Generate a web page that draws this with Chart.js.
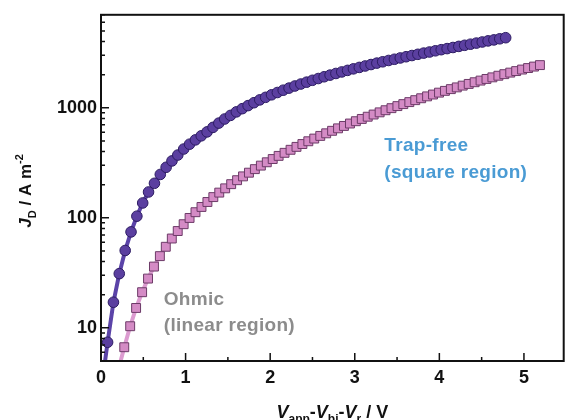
<!DOCTYPE html>
<html>
<head>
<meta charset="utf-8">
<script src="https://cdn.jsdelivr.net/npm/chart.js@4.4.1/dist/chart.umd.min.js"></script>
<style>
  body { margin: 0; background: #fff; }
  #wrap { width: 571px; height: 420px; }
</style>
</head>
<body>
<div id="wrap"><canvas id="grafica" width="571" height="420"></canvas></div>
<script>
// ─── DATOS ───────────────────────────────────────────────
const circX = [0.078, 0.147, 0.216, 0.286, 0.355, 0.424, 0.493, 0.562, 0.632, 0.701,
  0.770, 0.839, 0.908, 0.978, 1.047, 1.116, 1.185, 1.254, 1.324, 1.393,
  1.462, 1.531, 1.600, 1.670, 1.739, 1.808, 1.877, 1.946, 2.016, 2.085,
  2.154, 2.223, 2.292, 2.362, 2.431, 2.500, 2.569, 2.638, 2.708, 2.777,
  2.846, 2.915, 2.984, 3.054, 3.123, 3.192, 3.261, 3.330, 3.400, 3.469,
  3.538, 3.607, 3.676, 3.746, 3.815, 3.884, 3.953, 4.022, 4.092, 4.161,
  4.230, 4.299, 4.368, 4.438, 4.507, 4.576, 4.645, 4.714, 4.784]
const circY = [7.4, 17.1, 31.1, 50.5, 74.5, 103.5, 136.5, 171.8, 206, 248,
  288, 329, 372, 422, 467, 511, 556, 604, 664, 726,
  791, 853, 918, 982, 1047, 1112, 1180, 1245, 1312, 1377,
  1445, 1510, 1578, 1644, 1710, 1778, 1845, 1914, 1982, 2051,
  2118, 2188, 2259, 2328, 2399, 2472, 2547, 2618, 2692, 2761,
  2838, 2911, 2985, 3062, 3141, 3214, 3296, 3373, 3451, 3532,
  3614, 3698, 3784, 3873, 3963, 4055, 4140, 4236, 4335]

const sqX = [0.275, 0.345, 0.415, 0.486, 0.556, 0.626, 0.696, 0.766, 0.837, 0.907,
  0.977, 1.047, 1.117, 1.188, 1.258, 1.328, 1.398, 1.468, 1.539, 1.609,
  1.679, 1.749, 1.819, 1.890, 1.960, 2.030, 2.100, 2.170, 2.241, 2.311,
  2.381, 2.451, 2.521, 2.592, 2.662, 2.732, 2.802, 2.872, 2.943, 3.013,
  3.083, 3.153, 3.223, 3.294, 3.364, 3.434, 3.504, 3.574, 3.645, 3.715,
  3.785, 3.855, 3.925, 3.996, 4.066, 4.136, 4.206, 4.276, 4.347, 4.417,
  4.487, 4.557, 4.627, 4.698, 4.768, 4.838, 4.908, 4.978, 5.049, 5.119,
  5.189]
const sqY = [6.67, 10.35, 15.17, 21.09, 28.05, 36.06, 44.87, 54.58, 64.86, 75.86,
  87.5, 99.77, 112.5, 125.6, 139.3, 154.3, 169.5, 185.4, 202.3, 219.8,
  238.1, 257.2, 277.1, 298.2, 319.7, 342.2, 365.6, 389.8, 415.3, 441.5,
  468.4, 496.3, 525.2, 555.3, 586.1, 617.8, 650.7, 684.3, 719.5, 755.1,
  792, 829.7, 868.6, 909.1, 950.2, 992.2, 1036, 1080, 1126, 1173,
  1221, 1270, 1320, 1373, 1425, 1478, 1533, 1590, 1648, 1707,
  1767, 1829, 1891, 1956, 2021, 2088, 2156, 2226, 2297, 2369,
  2443]

// inicio de las líneas de ajuste (por debajo del eje)
const fitStartX = [0.045, 0.226]
const fitStartY = [4.8, 4.8]

const xTicks = [0, 1, 2, 3, 4, 5]
const yTicks = [10, 100, 1000]

const FONT = "'Liberation Sans', Arial, sans-serif"

const puntos = (xs, ys) => xs.map((x, i) => ({ x, y: ys[i] }))

// ─── TEXTO CON SUB/SUPERÍNDICES ──────────────────────────
function textoRico(ctx, partes, cx, cy) {
    let total = 0
    partes.forEach(p => { ctx.font = p.f; total += ctx.measureText(p.t).width })
    let x = cx - total / 2
    partes.forEach(p => {
        ctx.font = p.f
        ctx.fillText(p.t, x, cy + (p.dy || 0))
        x += ctx.measureText(p.t).width
    })
}

// ─── MARCO, TICKS Y ETIQUETAS ────────────────────────────
const decoracion = {
    id: 'decoracion',
    afterDraw(chart) {
        const { ctx, chartArea: a, scales: { x, y } } = chart
        ctx.save()
        ctx.strokeStyle = '#111'
        ctx.lineWidth = 1.5
        ctx.beginPath()
        for (let v = 0; v <= x.max + 1e-9; v += 0.5) {
            const px = x.getPixelForValue(v)
            const len = Number.isInteger(v) ? 8 : 4
            ctx.moveTo(px, a.bottom); ctx.lineTo(px, a.bottom - len)
        }
        for (let d = 0; d <= 4; d++) {
            for (let m = 1; m <= 9; m++) {
                const v = m * Math.pow(10, d)
                if (v < y.min || v > y.max) continue
                const py = y.getPixelForValue(v)
                const len = m === 1 ? 8 : 4
                ctx.moveTo(a.left, py); ctx.lineTo(a.left + len, py)
            }
        }
        ctx.stroke()

        ctx.lineWidth = 2
        ctx.strokeRect(a.left, a.top, a.right - a.left, a.bottom - a.top)

        // títulos de ejes
        ctx.fillStyle = '#111'
        ctx.textBaseline = 'alphabetic'
        const b = 'bold 18px ' + FONT, bi = 'italic bold 18px ' + FONT, s = 'bold 12px ' + FONT
        textoRico(ctx, [
            { t: 'V', f: bi }, { t: 'app', f: s, dy: 5 }, { t: '-', f: b },
            { t: 'V', f: bi }, { t: 'bi', f: s, dy: 5 }, { t: '-', f: b },
            { t: 'V', f: bi }, { t: 'r', f: s, dy: 5 }, { t: ' / V', f: b }
        ], (a.left + a.right) / 2, 418)

        ctx.save()
        ctx.translate(31, (a.top + a.bottom) / 2 + 3)
        ctx.rotate(-Math.PI / 2)
        textoRico(ctx, [
            { t: 'J', f: 'italic bold 17px ' + FONT }, { t: 'D', f: 'bold 11px ' + FONT, dy: 5 },
            { t: ' / A m', f: 'bold 17px ' + FONT }, { t: '-2', f: 'bold 11px ' + FONT, dy: -8 }
        ], 0, 0)
        ctx.restore()

        // anotaciones
        ctx.font = 'bold 19px ' + FONT
        ctx.letterSpacing = '0.3px'
        ctx.textAlign = 'left'
        ctx.fillStyle = '#4a9bd4'
        ctx.fillText('Trap-free', x.getPixelForValue(3.35), y.getPixelForValue(403))
        ctx.fillText('(square region)', x.getPixelForValue(3.35), y.getPixelForValue(228))
        ctx.fillStyle = '#8c8c8c'
        ctx.fillText('Ohmic', x.getPixelForValue(0.742), y.getPixelForValue(16.3))
        ctx.fillText('(linear region)', x.getPixelForValue(0.742), y.getPixelForValue(9.3))
        ctx.restore()
    }
}

// ─── GRÁFICA ─────────────────────────────────────────────
new Chart(document.getElementById('grafica'), {
    type: 'scatter',
    data: {
        datasets: [
            {
                data: puntos(circX, circY),
                pointStyle: 'circle',
                pointRadius: 5.3,
                backgroundColor: '#5b3fa0',
                borderColor: '#2d1c63',
                borderWidth: 1,
                order: 1
            },
            {
                data: puntos(sqX, sqY),
                pointStyle: 'rect',
                pointRadius: 6.3,
                backgroundColor: '#d48bc5',
                borderColor: '#6d3b68',
                borderWidth: 1,
                order: 2
            },
            {
                data: [{ x: fitStartX[1], y: fitStartY[1] }, ...puntos(sqX, sqY)],
                showLine: true,
                pointRadius: 0,
                borderColor: '#dc9bd0',
                borderWidth: 4,
                order: 3
            },
            {
                data: [{ x: fitStartX[0], y: fitStartY[0] }, ...puntos(circX, circY)],
                showLine: true,
                pointRadius: 0,
                borderColor: '#5b43a8',
                borderWidth: 4,
                order: 4
            }
        ]
    },
    options: {
        responsive: false,
        animation: false,
        layout: { padding: { top: 11, right: 2, left: 0, bottom: 0 } },
        plugins: { legend: { display: false }, tooltip: { enabled: false } },
        scales: {
            x: {
                type: 'linear', min: 0, max: 5.47,
                grid: { display: false, drawTicks: false },
                border: { display: false },
                ticks: { color: '#111', padding: 6, maxRotation: 0, font: { family: FONT, size: 18, weight: 'bold' } },
                afterBuildTicks: s => { s.ticks = xTicks.map(v => ({ value: v })) },
                afterFit: s => { s.height = 59 }
            },
            y: {
                type: 'logarithmic', min: 5, max: 7000,
                grid: { display: false, drawTicks: false },
                border: { display: false },
                ticks: { color: '#111', padding: 4, font: { family: FONT, size: 18, weight: 'bold' }, callback: v => String(v) },
                afterBuildTicks: s => { s.ticks = yTicks.map(v => ({ value: v })) },
                afterFit: s => { s.width = 101 }
            }
        }
    },
    plugins: [decoracion]
})
</script>
</body>
</html>
